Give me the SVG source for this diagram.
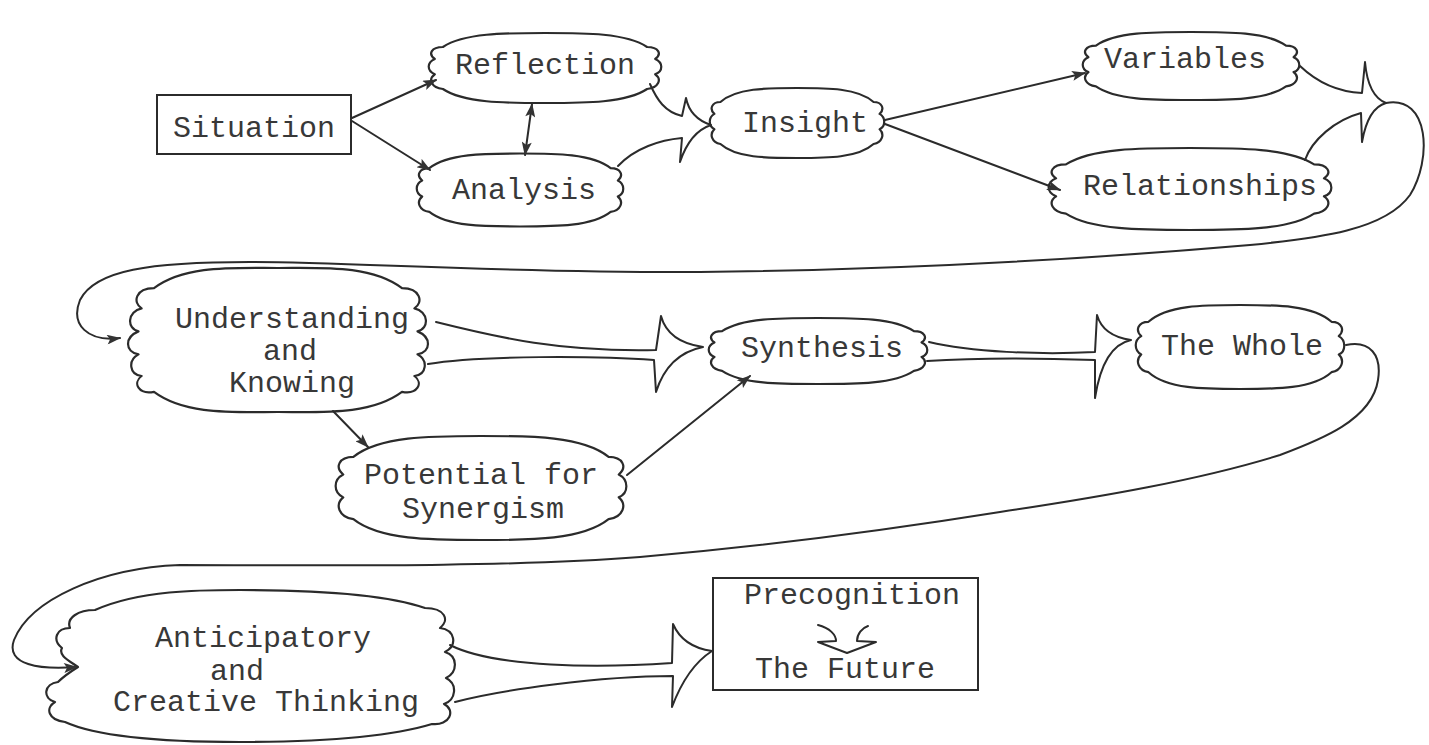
<svg xmlns="http://www.w3.org/2000/svg" xmlns:xlink="http://www.w3.org/1999/xlink" width="1429" height="745" viewBox="0 0 1429 745">
<style>
  .ln{fill:none;stroke:#2b2b2b;stroke-width:2;stroke-linecap:round;stroke-linejoin:round}
  .cl{fill:#fff;stroke:#2b2b2b;stroke-width:2.2;stroke-linejoin:round}
  .bx{fill:#fff;stroke:#2b2b2b;stroke-width:2}
  .t{font-family:"Liberation Mono","Courier New",monospace;font-size:30px;fill:#383838;text-anchor:middle}
</style>
<defs>
  <marker id="ah" viewBox="0 0 14 10" refX="13" refY="5" markerWidth="15" markerHeight="10" markerUnits="userSpaceOnUse" orient="auto-start-reverse">
    <path d="M0,0 L14,5 L0,10 L3,5 z" fill="#333"/>
  </marker>
  <path id="cloud1" vector-effect="non-scaling-stroke" d="M -88,-30 C -70,-50 -35,-50 0,-50 C 35,-50 70,-50 88,-30 C 98,-30 101,-20 95,-13 C 102,-8 102,5 95,9 C 101,16 98,28 88,30 C 70,50 35,50 0,50 C -35,50 -70,50 -88,30 C -98,28 -101,16 -95,9 C -102,4 -102,-8 -95,-13 C -101,-20 -98,-30 -88,-30 Z"/>
  <path id="cloud2" vector-effect="non-scaling-stroke" d="M -80,-36 C -60,-52 -30,-50 0,-50 C 30,-50 60,-52 80,-36 C 92,-36 94,-26 88,-22 C 97,-20 98,-8 90,-6 C 99,-2 99,8 90,10 C 97,14 96,24 88,25 C 94,30 90,38 80,36 C 60,52 30,50 0,50 C -30,50 -60,52 -80,36 C -90,38 -94,30 -88,25 C -96,24 -97,14 -90,10 C -99,8 -99,-2 -90,-6 C -98,-8 -97,-20 -88,-22 C -94,-26 -92,-36 -80,-36 Z"/>
</defs>
<rect width="1429" height="745" fill="#fff"/>

<g id="situation">
  <rect class="bx" x="157" y="95" width="194" height="59"/>
  <text class="t" x="254" y="137">Situation</text>
</g>
<g id="reflection">
  <use href="#cloud1" class="cl" transform="translate(545,68) scale(1.16,0.70)"/>
  <text class="t" x="545" y="74">Reflection</text>
</g>
<g id="analysis">
  <use href="#cloud1" class="cl" transform="translate(520,190) scale(1.03,0.73)"/>
  <text class="t" x="524" y="199">Analysis</text>
</g>
<g id="insight">
  <use href="#cloud1" class="cl" transform="translate(797,123) scale(0.87,0.70)"/>
  <text class="t" x="805" y="132">Insight</text>
</g>
<g id="variables">
  <use href="#cloud1" class="cl" transform="translate(1191,66) scale(1.08,0.68)"/>
  <text class="t" x="1185" y="68">Variables</text>
</g>
<g id="relationships">
  <use href="#cloud1" class="cl" transform="translate(1190,189) scale(1.41,0.82)"/>
  <text class="t" x="1200" y="195">Relationships</text>
</g>
<g id="understanding">
  <use href="#cloud2" class="cl" transform="translate(278,340) scale(1.55,1.44)"/>
  <text class="t" x="292" y="328">Understanding</text>
  <text class="t" x="290" y="360">and</text>
  <text class="t" x="292" y="392">Knowing</text>
</g>
<g id="synthesis">
  <use href="#cloud1" class="cl" transform="translate(818,351) scale(1.09,0.66)"/>
  <text class="t" x="822" y="357">Synthesis</text>
</g>
<g id="the-whole">
  <use href="#cloud1" class="cl" transform="translate(1240,347) scale(1.04,0.84)"/>
  <text class="t" x="1242" y="355">The Whole</text>
</g>
<g id="potential">
  <use href="#cloud1" class="cl" transform="translate(481,488) scale(1.45,1.04)"/>
  <text class="t" x="481" y="484">Potential for</text>
  <text class="t" x="483" y="518">Synergism</text>
</g>
<g id="anticipatory">
  <path class="cl" d="M95,610 C140,590 200,590 240,590 C300,590 380,592 425,608 C445,608 450,620 440,628 C455,630 458,645 445,652 C458,656 458,672 446,678 C458,684 456,700 444,704 C456,710 450,726 432,724 C380,740 300,742 240,742 C170,742 100,738 65,722 C48,720 45,708 55,702 C42,698 44,684 58,682 C62,678 70,672 78,667 C68,660 58,655 62,648 C52,640 56,628 70,628 C66,618 78,610 95,610 Z"/>
  <text class="t" x="263" y="647">Anticipatory</text>
  <text class="t" x="237" y="680">and</text>
  <text class="t" x="266" y="711">Creative Thinking</text>
</g>
<g id="precognition">
  <rect class="bx" x="713" y="578" width="265" height="112"/>
  <text class="t" x="852" y="604">Precognition</text>
  <path class="ln" d="M818,625 C830,628 836,635 836,641 L818,642 L847,653 L876,642 L857,641 C857,634 862,628 868,626"/>
  <text class="t" x="845" y="678">The Future</text>
</g>

<g id="connectors">
  <path class="ln" d="M352,118 L436,80" marker-end="url(#ah)"/>
  <path class="ln" d="M352,121 L430,170" marker-end="url(#ah)"/>
  <path class="ln" d="M532,104 L525,155" marker-start="url(#ah)" marker-end="url(#ah)"/>
  <path class="ln" d="M885,120 L1085,73" marker-end="url(#ah)"/>
  <path class="ln" d="M885,124 L1060,190" marker-end="url(#ah)"/>
  <path class="ln" d="M333,411 L368,447" marker-end="url(#ah)"/>
  <path class="ln" d="M627,475 L750,376" marker-end="url(#ah)"/>
  <path class="ln" d="M650,84 C657,100 665,112 682,116 L686,98 Q690,118 711,125 Q690,132 680,162 L682,138 C660,140 635,148 618,166"/>
  <path class="ln" d="M436,322 C500,338 560,352 656,350 L661,316 Q668,342 703,347 Q668,354 656,392 L654,360 C600,356 480,355 428,364"/>
  <path class="ln" d="M929,342 C970,352 1040,355 1095,352 L1097,315 Q1103,336 1131,340 Q1103,346 1095,398 L1095,360 C1040,358 970,358 927,361"/>
  <path class="ln" d="M1300,66 C1320,85 1340,92 1362,93 L1365,62 Q1368,96 1386,103 Q1368,108 1362,142 L1361,113 C1335,120 1312,140 1305,160"/>
  <path class="ln" d="M1386,103 C1430,95 1432,160 1410,195 C1385,230 1320,238 1250,245 C1100,258 900,270 700,272 C500,273 350,262 250,262 C150,262 95,270 80,300 C70,325 88,342 120,338" marker-end="url(#ah)"/>
  <path class="ln" d="M1346,345 C1370,340 1382,355 1378,380 C1372,420 1320,440 1280,455 C1200,480 1100,497 1000,512 C900,528 780,545 640,557 C500,568 300,565 180,565 C100,568 30,600 14,640 C5,665 40,670 77,667" marker-end="url(#ah)"/>
  <path class="ln" d="M450,645 C495,668 600,668 672,663 L673,624 Q683,647 712,651 Q687,667 672,707 L673,676 C600,676 500,690 455,702"/>
</g>
</svg>
